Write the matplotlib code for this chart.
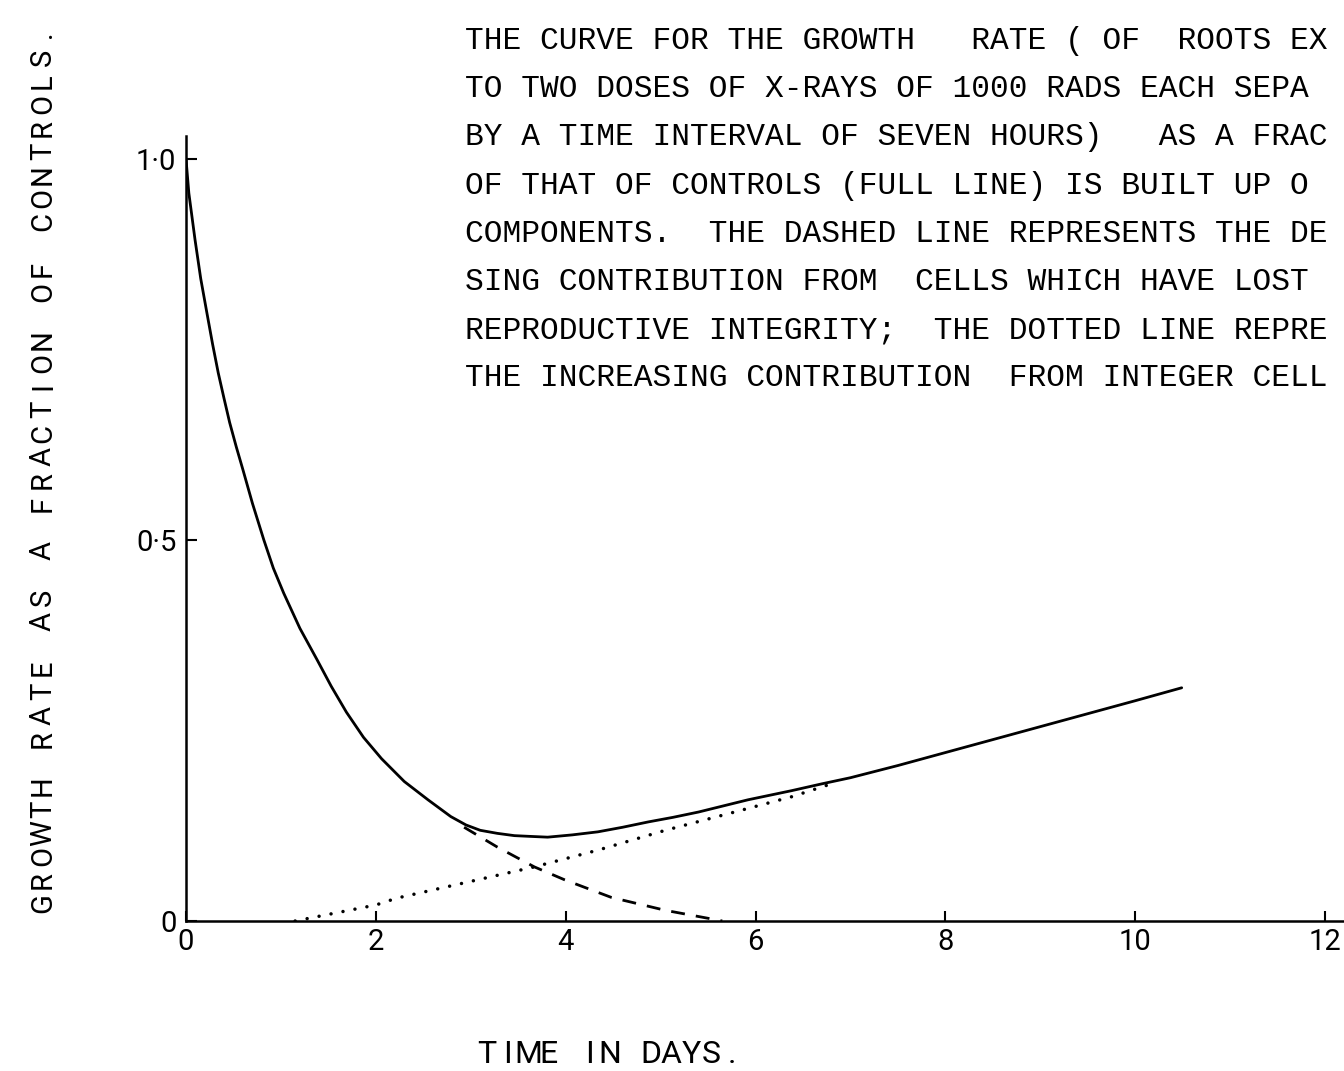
import matplotlib
matplotlib.use("Agg")
import matplotlib.pyplot as plt

# ---- data: growth rate as a fraction of controls vs. time (days) ----
# full line: total growth rate
days_total = [0.0, 0.03, 0.095, 0.155, 0.22, 0.28, 0.34, 0.40, 0.46, 0.53,
              0.60, 0.70, 0.82, 0.92, 1.03, 1.20, 1.38, 1.53, 1.69, 1.87,
              2.06, 2.30, 2.55, 2.79, 2.95, 3.10, 3.28, 3.46, 3.63, 3.81,
              4.07, 4.34, 4.60, 4.87, 5.13, 5.40, 5.66, 5.92, 6.38, 6.7,
              7.0, 7.5, 8.0, 8.5, 9.0, 9.5, 10.0, 10.49]
rate_total = [1.0, 0.955, 0.894, 0.843, 0.798, 0.757, 0.719, 0.686, 0.654, 0.622,
              0.592, 0.548, 0.500, 0.463, 0.430, 0.384, 0.343, 0.308, 0.274, 0.241,
              0.213, 0.183, 0.159, 0.137, 0.126, 0.119, 0.115, 0.112, 0.111, 0.110,
              0.113, 0.117, 0.123, 0.130, 0.136, 0.143, 0.151, 0.159, 0.171, 0.180,
              0.188, 0.204, 0.221, 0.238, 0.255, 0.272, 0.289, 0.306]

# dashed line: decreasing contribution from cells that lost reproductive integrity
days_lost = [2.93, 3.28, 3.67, 3.99, 4.48, 5.05, 5.61, 5.65]
rate_lost = [0.123, 0.097, 0.071, 0.054, 0.031, 0.014, 0.001, 0.0]

# dotted line: increasing contribution from integer cells
days_integer = [1.15, 2.0, 2.22, 2.93, 3.67, 4.34, 5.05, 5.75, 6.38, 6.8]
rate_integer = [0.0, 0.021, 0.030, 0.050, 0.071, 0.093, 0.119, 0.142, 0.163, 0.180]

x_ticks = [0, 2, 4, 6, 8, 10, 12]
x_tick_labels = ["0", "2", "4", "6", "8", "10", "12"]
y_ticks = [0, 0.5, 1.0]
y_tick_labels = ["0", "0·5", "1·0"]

x_label = "TIME IN DAYS."
y_label = "GROWTH RATE AS A FRACTION OF CONTROLS."

# typed caption, as far as it runs on the page
caption_lines = [
    "THE CURVE FOR THE GROWTH   RATE ( OF  ROOTS EX",
    "TO TWO DOSES OF X-RAYS OF 1000 RADS EACH SEPA",
    "BY A TIME INTERVAL OF SEVEN HOURS)   AS A FRAC",
    "OF THAT OF CONTROLS (FULL LINE) IS BUILT UP O",
    "COMPONENTS.  THE DASHED LINE REPRESENTS THE DE",
    "SING CONTRIBUTION FROM  CELLS WHICH HAVE LOST",
    "REPRODUCTIVE INTEGRITY;  THE DOTTED LINE REPRE",
    "THE INCREASING CONTRIBUTION  FROM INTEGER CELL",
]

# ---- figure ----
W, H = 1344, 1071
INK = "#000000"
LETTER = dict(family=["Roboto", "DejaVu Sans"], weight="normal", color=INK)

fig = plt.figure(figsize=(W / 100, H / 100), dpi=100)
fig.patch.set_facecolor("white")
ax = fig.add_axes([186 / W, 150 / H, 1158 / W, 785 / H])

ax.plot(days_total, rate_total, color=INK, lw=2.0,
        solid_joinstyle="round", solid_capstyle="round")
ax.plot(days_lost, rate_lost, color=INK, lw=2.0, dashes=(5, 4))
ax.plot(days_integer, rate_integer, color=INK, lw=2.5,
        linestyle=(0, (0.01, 3.5)), dash_capstyle="round")

ax.set_xlim(0, 12.2)
ax.set_ylim(0, 1.03)
for side in ("top", "right"):
    ax.spines[side].set_visible(False)
for side in ("left", "bottom"):
    ax.spines[side].set_linewidth(1.8)
    ax.spines[side].set_color(INK)

ax.set_xticks(x_ticks)
ax.set_xticklabels(x_tick_labels)
ax.set_yticks(y_ticks)
ax.set_yticklabels(y_tick_labels)
ax.tick_params(axis="x", direction="in", length=7, width=1.5, pad=5,
               labelsize=21, colors=INK)
ax.tick_params(axis="y", direction="in", length=8, width=1.5, pad=7,
               labelsize=21, colors=INK)
for lab in ax.get_xticklabels() + ax.get_yticklabels():
    lab.set_fontfamily(LETTER["family"])
    lab.set_fontweight("normal")


def lettering(text, x0, y0, pitch, size, vertical=False):
    """Stencil-style lettering: each character on a fixed pitch (pixels)."""
    for i, ch in enumerate(text):
        if ch == " ":
            continue
        if vertical:
            px, py = x0, y0 - pitch * (i + 0.5)
            rot = 90
        else:
            px, py = x0 + pitch * (i + 0.5), y0
            rot = 0
        fig.text(px / W, 1 - py / H, ch, fontsize=size, rotation=rot,
                 rotation_mode="anchor", ha="center", va="baseline", **LETTER)


# axis titles
lettering(y_label, 51, 915, 23.5, 21, vertical=True)
lettering(x_label, 477, 1063, 20.4, 23)

# typed caption
for i, line in enumerate(caption_lines):
    fig.text(465 / W, 1 - (49 + 48.2 * i) / H, line, family="Liberation Mono",
             fontsize=22.5, ha="left", va="baseline", color=INK)

fig.savefig("out.png", dpi=100, facecolor="white")
